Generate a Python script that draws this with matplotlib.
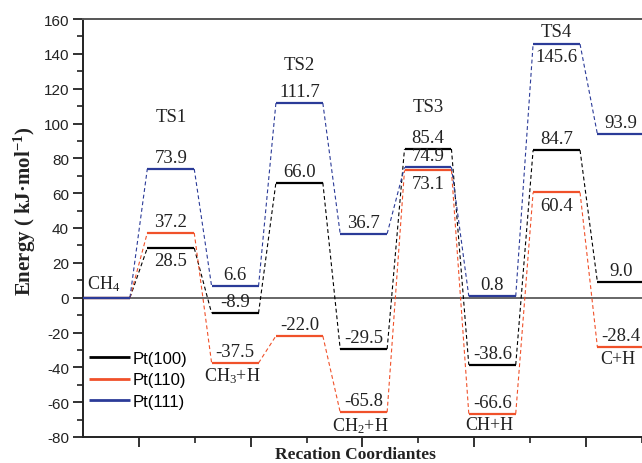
import numpy as np
import matplotlib.pyplot as plt
import matplotlib as mpl

mpl.rcParams['axes.unicode_minus'] = False
mpl.rcParams['mathtext.fontset'] = 'custom'
mpl.rcParams['mathtext.rm'] = 'Liberation Serif'
mpl.rcParams['mathtext.it'] = 'Liberation Serif:italic'
mpl.rcParams['mathtext.bf'] = 'Liberation Serif:bold'

# energies (kJ/mol) along the path: CH4, TS1, CH3+H, TS2, CH2+H, TS3, CH+H, TS4, C+H
pt100 = [0.0, 28.5, -8.9, 66.0, -29.5, 85.4, -38.6, 84.7, 9.0]
pt110 = [0.0, 37.2, -37.5, -22.0, -65.8, 73.1, -66.6, 60.4, -28.4]
pt111 = [0.0, 73.9, 6.6, 111.7, 36.7, 74.9, 0.8, 145.6, 93.9]
series_names = ['Pt(100)', 'Pt(110)', 'Pt(111)']
ts_names = ['TS1', 'TS2', 'TS3', 'TS4']
ts_label_y = [104, 134, 110, 153]
species = ['CH$_4$', 'CH$_3$+H', 'CH$_2$+H', 'CH+H', 'C+H']

colors = ['#000000', '#F0512A', '#2B3B98']
# where the number goes: a = above the level, b = below
places = [
    [None, 'b', 'a', 'a', 'a', 'a', 'a', 'a', 'a'],
    [None, 'a', 'a', 'a', 'a', 'b', 'a', 'b', 'a'],
    [None, 'a', 'a', 'a', 'a', 'a', 'a', 'b', 'a'],
]

W = 0.73  # level width in state units
serif = 'Liberation Serif'

fig = plt.figure(figsize=(6.42, 4.64), dpi=100)
ax = fig.add_axes([83 / 642, 26 / 464, 587 / 642, 418 / 464])
ax.set_xlim(0, 587 / 64.3)
ax.set_ylim(-80, 160)

ax.axhline(0, color='#666666', lw=1.4, zorder=1)

for vals, col, pl, name in zip([pt100, pt110, pt111], colors, places, series_names):
    for i, e in enumerate(vals):
        ax.plot([i, i + W], [e, e], color=col, lw=1.6, solid_capstyle='butt', zorder=3,
                label=name if i == 0 else None)
        if i + 1 < len(vals):
            ax.plot([i + W, i + 1], [e, vals[i + 1]], color=col, lw=0.8,
                    ls=(0, (3.5, 2.5)), zorder=2)
        if pl[i] == 'a':
            ax.annotate('%.1f' % e, (i + W / 2, e), xytext=(0, 2), textcoords='offset points',
                        ha='center', va='bottom', fontsize=13.5, family=serif, color='#222222')
        elif pl[i] == 'b':
            ax.annotate('%.1f' % e, (i + W / 2, e), xytext=(0, -3), textcoords='offset points',
                        ha='center', va='top', fontsize=13.5, family=serif, color='#222222')

for k, (t, ty) in enumerate(zip(ts_names, ts_label_y)):
    ax.text(2 * k + 1 + W / 2, ty, t, ha='center', va='center', fontsize=13.5,
            family=serif, color='#222222')

# intermediate species labels
ax.annotate(species[0], (W / 2 - 0.05, 0), xytext=(0, 3), textcoords='offset points',
            ha='center', va='bottom', fontsize=13, family=serif, color='#222222')
for k, s in enumerate(species[1:]):
    i = 2 * k + 2
    ax.annotate(s, (i + W / 2 - 0.05, pt110[i]), xytext=(0, -2), textcoords='offset points',
                ha='center', va='top', fontsize=13, family=serif, color='#222222')

# axes styling
ax.spines['right'].set_visible(False)
ax.spines['top'].set_color('#555555')
ax.spines['top'].set_linewidth(1.4)
ax.spines['left'].set_linewidth(1.4)
ax.spines['bottom'].set_linewidth(1.4)
ax.spines['left'].set_color('#222222')
ax.spines['bottom'].set_color('#222222')

ax.set_yticks(np.arange(-80, 161, 20))
ax.set_yticks(np.arange(-70, 161, 20), minor=True)
xt0, xdt = 56 / 64.3, 111.7 / 64.3
ax.set_xticks([xt0 + k * xdt for k in range(5)])
ax.set_xticks([xt0 + (k + 0.5) * xdt for k in range(5)], minor=True)
ax.set_xticklabels([])
ax.tick_params(which='major', direction='out', length=7, width=1.3, color='#222222',
               labelsize=11, pad=3)
ax.tick_params(which='minor', direction='out', length=4, width=1.2, color='#222222')
ax.tick_params(top=False, right=False, which='both')
for lab in ax.get_yticklabels():
    lab.set_family('Liberation Sans')
    lab.set_color('#222222')

fig.text(25 / 642, 1 - 211 / 464, 'Energy ( kJ\u00b7mol$^{\\mathbf{-1}}$)', rotation=90,
         ha='center', va='center', fontsize=15, family=serif, weight='bold', color='#222222')
fig.text(355 / 642, 1 - 459 / 464, 'Recation Coordiantes', ha='center', va='baseline',
         fontsize=12.5, family=serif, weight='bold', color='#222222')

leg = ax.legend(loc='center left', bbox_to_anchor=(6 / 587, (438 - 381) / 418), frameon=False,
                prop={'family': 'Liberation Sans', 'size': 12}, handlelength=2.45,
                handletextpad=0.15, labelspacing=0.38, borderaxespad=0, borderpad=0)
for line in leg.get_lines():
    line.set_linewidth(2)

plt.savefig('out.png', dpi=100)
